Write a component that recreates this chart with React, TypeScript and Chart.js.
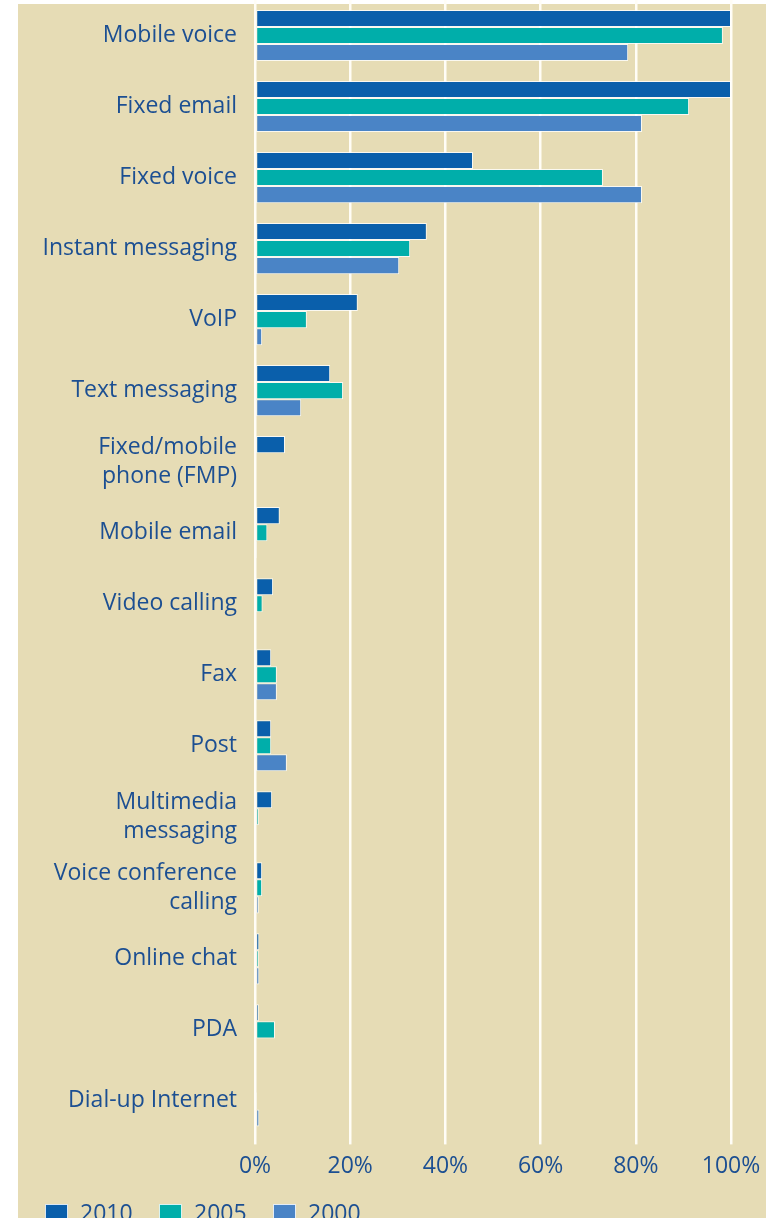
import React, { useEffect, useRef } from "react";
import { Chart, registerables } from "chart.js";

Chart.register(...registerables);

const categories: (string | string[])[] = [
  "Mobile voice",
  "Fixed email",
  "Fixed voice",
  "Instant messaging",
  "VoIP",
  "Text messaging",
  ["Fixed/mobile", "phone (FMP)"],
  "Mobile email",
  "Video calling",
  "Fax",
  "Post",
  ["Multimedia", "messaging"],
  ["Voice conference", "calling"],
  "Online chat",
  "PDA",
  "Dial-up Internet",
];

const values2010 = [100, 100, 45.8, 36.1, 21.6, 15.8, 6.3, 5.2, 3.8, 3.4, 3.4, 3.6, 1.5, 0.9, 0.8, 0.1];
const values2005 = [98.3, 91.2, 73.1, 32.6, 10.9, 18.5, null, 2.6, 1.6, 4.6, 3.4, 0.8, 1.5, 0.8, 4.2, 0.4];
const values2000 = [78.4, 81.3, 81.3, 30.3, 1.5, 9.7, null, 0.4, null, 4.6, 6.7, null, 0.8, 0.9, 0.3, 0.9];

const xTicks = [0, 20, 40, 60, 80, 100];

const seriesNames = ["2010", "2005", "2000"];
const seriesColors = ["#0a5fab", "#00aeaa", "#4a84c6"];
const legendBoxX = [45, 159, 273];

const TEXT = "#1c4f92";
const BG = "#e6dcb5";
const FONT = "'Open Sans', 'Noto Sans', sans-serif";

export default function App() {
  const ref = useRef<HTMLCanvasElement | null>(null);

  useEffect(() => {
    if (!ref.current) return;
    const chart = new Chart(ref.current, {
      type: "bar",
      data: {
        labels: categories,
        datasets: [values2010, values2005, values2000].map((d, i) => ({
          label: seriesNames[i],
          data: d,
          backgroundColor: seriesColors[i],
          borderColor: "rgba(255,255,255,0.8)",
          borderWidth: 1,
          borderSkipped: false,
          categoryPercentage: 0.72,
          barPercentage: 1,
        })),
      },
      options: {
        indexAxis: "y",
        responsive: false,
        animation: false,
        maintainAspectRatio: false,
        layout: { autoPadding: false, padding: { top: 0, right: 40, bottom: 30, left: 0 } },
        plugins: {
          legend: { display: false },
          tooltip: { enabled: false },
        },
        scales: {
          x: {
            min: 0,
            max: 100,
            afterBuildTicks: (scale: any) => {
              scale.ticks = xTicks.map((v) => ({ value: v }));
            },
            afterFit: (scale: any) => {
              scale.paddingLeft = 0;
              scale.paddingRight = 0;
            },
            grid: {
              color: "#fffdf6",
              lineWidth: 2.5,
              drawTicks: true,
              tickLength: 8,
            },
            border: { display: false },
            ticks: {
              color: TEXT,
              padding: 8,
              font: { family: FONT, size: 23, lineHeight: 1.2 },
              callback: (v: any) => v + "%",
            },
          },
          y: {
            afterFit: (scale: any) => {
              scale.width = 255;
              scale.paddingTop = 0;
              scale.paddingBottom = 0;
            },
            grid: { display: false, drawTicks: false },
            border: { display: false },
            ticks: {
              color: TEXT,
              padding: 18,
              font: { family: FONT, size: 23, lineHeight: 1.26 },
            },
          },
        },
      },
    });
    return () => chart.destroy();
  }, []);

  return (
    <div
      style={{
        position: "absolute",
        left: 0,
        top: 0,
        width: 771,
        height: 1218,
        overflow: "hidden",
        background: "#ffffff",
      }}
    >
      <div
        style={{
          position: "absolute",
          left: 18,
          top: 4,
          width: 748,
          height: 1214,
          background: BG,
        }}
      />
      <canvas
        ref={ref}
        width={771}
        height={1218}
        style={{ position: "absolute", left: 0, top: 0, width: 771, height: 1218 }}
      />
      {seriesNames.map((n, i) => (
        <div
          key={n}
          style={{
            position: "absolute",
            left: legendBoxX[i],
            top: 1201,
            display: "flex",
            alignItems: "flex-start",
            fontFamily: FONT,
            fontSize: 23,
            color: TEXT,
            lineHeight: "23px",
            whiteSpace: "nowrap",
          }}
        >
          <span
            style={{
              display: "inline-block",
              width: 23,
              height: 20,
              marginTop: 3,
              background: seriesColors[i],
              border: "1.5px solid rgba(255,255,255,0.85)",
              boxSizing: "border-box",
              marginRight: 12,
            }}
          />
          <span>{n}</span>
        </div>
      ))}
    </div>
  );
}
